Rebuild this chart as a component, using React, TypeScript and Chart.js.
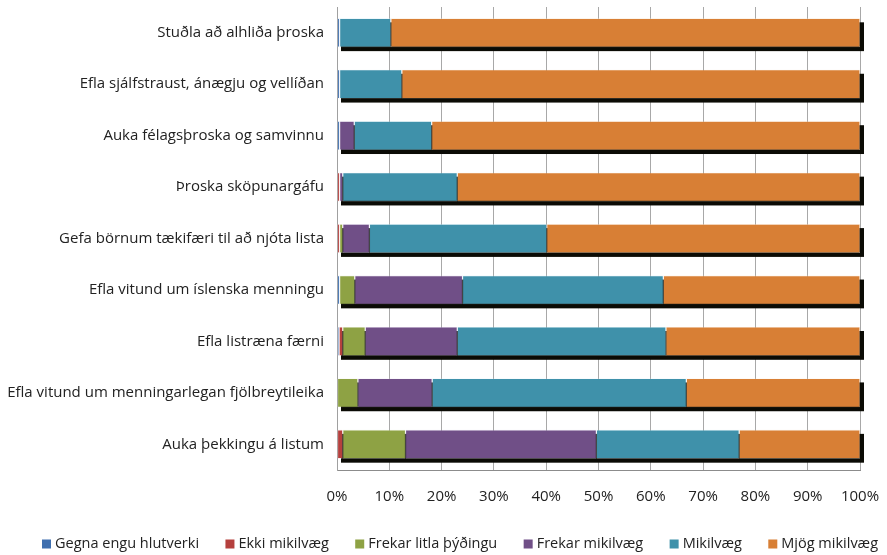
import React, { useEffect, useRef } from "react";
import { Chart, registerables } from "chart.js";

Chart.register(...registerables);

const categories = [
  "Stuðla að alhliða þroska",
  "Efla sjálfstraust, ánægju og vellíðan",
  "Auka félagsþroska og samvinnu",
  "Þroska sköpunargáfu",
  "Gefa börnum tækifæri til að njóta lista",
  "Efla vitund um íslenska menningu",
  "Efla listræna færni",
  "Efla vitund um menningarlegan fjölbreytileika",
  "Auka þekkingu á listum",
];

const seriesNames = [
  "Gegna engu hlutverki",
  "Ekki mikilvæg",
  "Frekar litla þýðingu",
  "Frekar mikilvæg",
  "Mikilvæg",
  "Mjög mikilvæg",
];

const gegnaEngu = [0.5, 0.5, 0.5, 0, 0, 0.5, 0.4, 0, 0];
const ekkiMikilvaeg = [0, 0, 0, 0.5, 0.5, 0, 0.7, 0, 1.1];
const frekarLitla = [0, 0, 0, 0, 0.6, 2.9, 4.3, 4.0, 12.0];
const frekarMikilvaeg = [0, 0, 2.8, 0.6, 5.1, 20.6, 17.6, 14.2, 36.5];
const mikilvaeg = [9.8, 11.9, 14.8, 21.9, 33.9, 38.4, 39.9, 48.6, 27.3];
const mjogMikilvaeg = [89.7, 87.6, 81.9, 77.0, 59.9, 37.6, 37.1, 33.2, 23.1];

const tickValues = [0, 10, 20, 30, 40, 50, 60, 70, 80, 90, 100];

const colors = ["#3f6faf", "#b5403d", "#8ea244", "#704f87", "#3f91aa", "#d87f35"];
const borders = [
  "rgba(200,215,240,0.6)",
  "rgba(240,200,200,0.6)",
  "rgba(225,235,205,0.6)",
  "rgba(220,210,235,0.6)",
  "rgba(205,235,245,0.6)",
  "rgba(250,225,200,0.6)",
];

const FONT = "'Open Sans', sans-serif";

const shadowPlugin = {
  id: "barShadow",
  beforeDatasetsDraw(chart: any) {
    const meta = chart.getDatasetMeta(0);
    const xs = chart.scales.x;
    const ctx = chart.ctx;
    const x0 = xs.getPixelForValue(0);
    const x1 = xs.getPixelForValue(100);
    ctx.save();
    ctx.fillStyle = "#0b0b05";
    meta.data.forEach((el: any) => {
      const h = el.height;
      const top = el.y - h / 2;
      ctx.fillRect(x0 + 4, top + 4, x1 - x0, h);
    });
    ctx.restore();
  },
};

const legendPlugin = {
  id: "rowLegend",
  afterDraw(chart: any) {
    const ctx = chart.ctx;
    ctx.save();
    ctx.font = `14.5px ${FONT}`;
    ctx.textBaseline = "middle";
    const box = 9;
    const gapBoxText = 4;
    const left = 42;
    const right = 878;
    const y = 544;
    const widths = seriesNames.map((n) => box + gapBoxText + ctx.measureText(n).width);
    const sum = widths.reduce((a, b) => a + b, 0);
    const gap = (right - left - sum) / (seriesNames.length - 1);
    let x = left;
    seriesNames.forEach((n, i) => {
      ctx.fillStyle = colors[i];
      ctx.fillRect(x, y - box / 2, box, box);
      ctx.fillStyle = "#222";
      ctx.fillText(n, x + box + gapBoxText, y);
      x += widths[i] + gap;
    });
    ctx.restore();
  },
};

export default function App() {
  const ref = useRef<HTMLCanvasElement>(null);
  useEffect(() => {
    const all = [gegnaEngu, ekkiMikilvaeg, frekarLitla, frekarMikilvaeg, mikilvaeg, mjogMikilvaeg];
    const chart = new Chart(ref.current!, {
      type: "bar",
      data: {
        labels: categories,
        datasets: all.map((d, i) => ({
          label: seriesNames[i],
          data: d,
          backgroundColor: colors[i],
          borderColor: borders[i],
          borderWidth: 0.6,
          borderSkipped: false,
          barPercentage: 0.56,
          categoryPercentage: 1,
        })),
      },
      options: {
        indexAxis: "y",
        animation: false,
        responsive: false,
        maintainAspectRatio: false,
        layout: { padding: { left: 6, right: 27, top: 7, bottom: 31 } },
        plugins: {
          tooltip: { enabled: false },
          legend: { display: false },
        },
        scales: {
          x: {
            stacked: true,
            min: 0,
            max: 100,
            afterBuildTicks(scale: any) {
              scale.ticks = tickValues.map((v) => ({ value: v }));
            },
            afterFit(scale: any) {
              scale.paddingLeft = 0;
              scale.paddingRight = 0;
            },
            grid: { color: "#a8a8a8", drawTicks: false, lineWidth: 1 },
            border: { color: "#8c8c8c" },
            ticks: {
              padding: 18,
              color: "#222",
              font: { family: FONT, size: 15 },
              callback: (v: any) => v + "%",
            },
          },
          y: {
            stacked: true,
            afterFit(scale: any) {
              scale.width = 331;
              scale.paddingTop = 0;
              scale.paddingBottom = 0;
            },
            grid: { display: false, drawTicks: false },
            border: { color: "#a0a0a0" },
            ticks: {
              padding: 13,
              color: "#222",
              font: { family: FONT, size: 15 },
            },
          },
        },
      },
      plugins: [shadowPlugin, legendPlugin],
    } as any);
    return () => chart.destroy();
  }, []);
  return (
    <div style={{ position: "fixed", left: 0, top: 0, width: 887, height: 555, background: "#fff" }}>
      <canvas ref={ref} width={887} height={555} />
    </div>
  );
}
